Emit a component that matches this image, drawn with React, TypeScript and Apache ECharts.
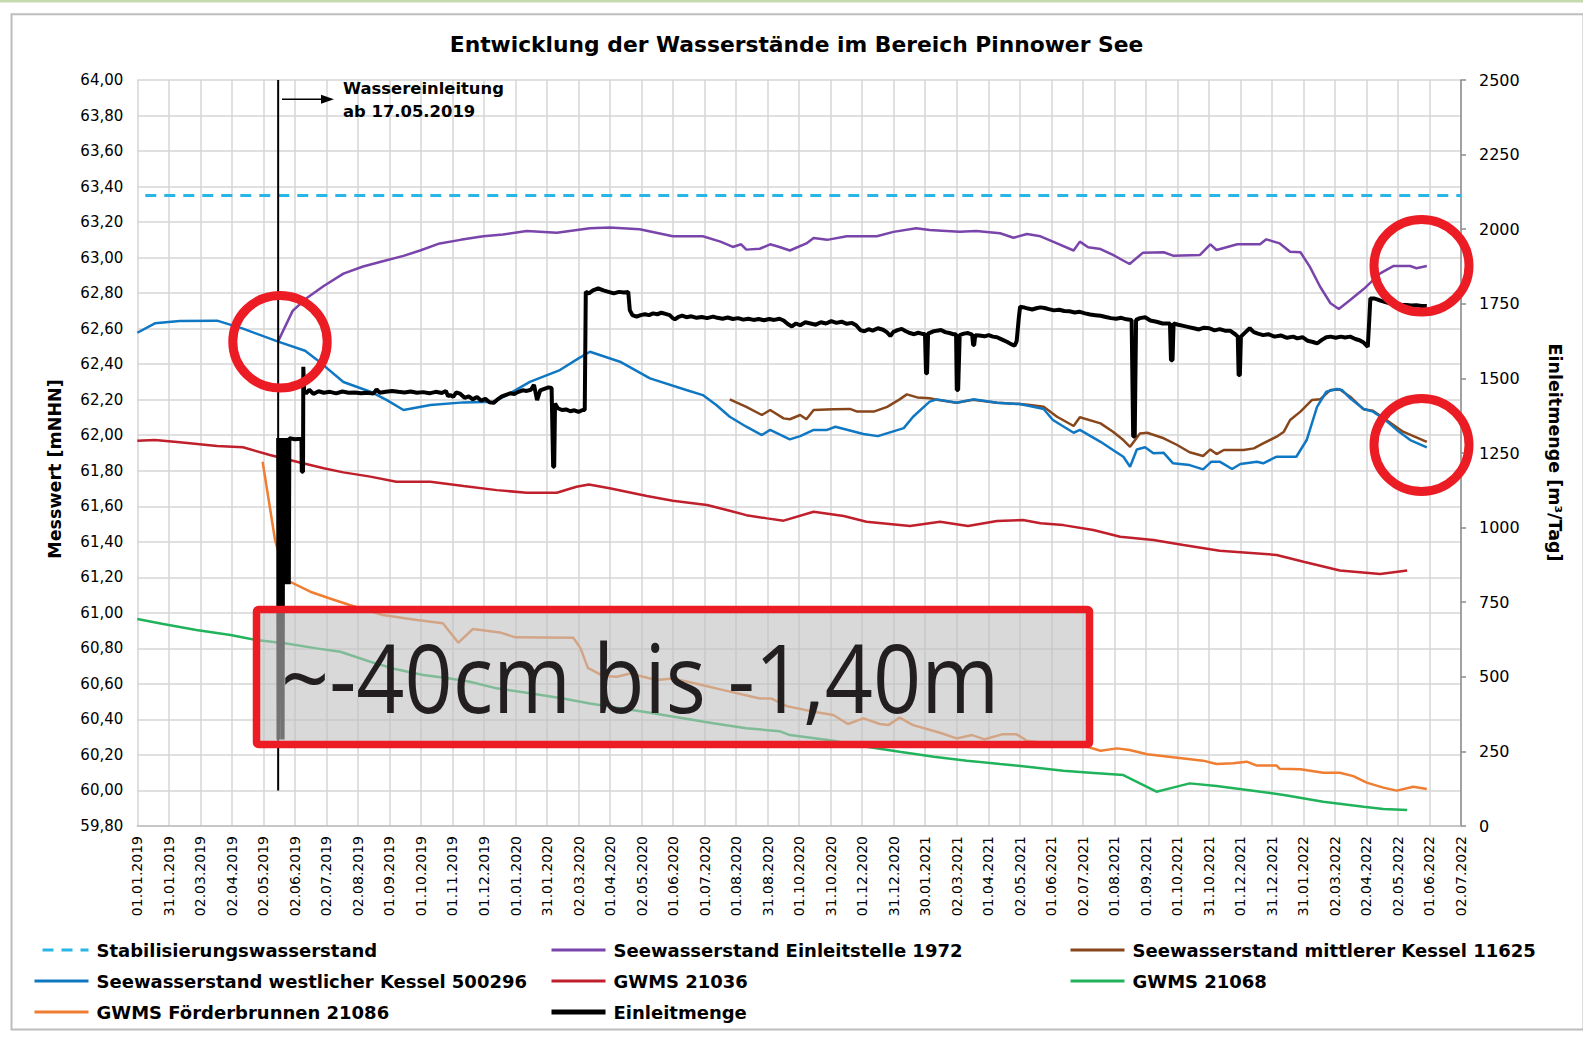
import React, { useEffect, useRef } from "react";
import * as echarts from "echarts";

// ---- axis tick labels (Excel date axis, 43 major ticks) ----
const TICK_LABELS = [
  "01.01.2019", "31.01.2019", "02.03.2019", "02.04.2019", "02.05.2019", "02.06.2019",
  "02.07.2019", "02.08.2019", "01.09.2019", "01.10.2019", "01.11.2019", "01.12.2019",
  "01.01.2020", "31.01.2020", "02.03.2020", "01.04.2020", "02.05.2020", "01.06.2020",
  "01.07.2020", "01.08.2020", "31.08.2020", "01.10.2020", "31.10.2020", "01.12.2020",
  "31.12.2020", "30.01.2021", "02.03.2021", "01.04.2021", "02.05.2021", "01.06.2021",
  "02.07.2021", "01.08.2021", "01.09.2021", "01.10.2021", "31.10.2021", "01.12.2021",
  "31.12.2021", "31.01.2022", "02.03.2022", "02.04.2022", "02.05.2022", "01.06.2022",
  "02.07.2022",
];
const TOTAL_DAYS = 1278; // 01.01.2019 -> 02.07.2022
const DAYS_PER_TICK = TOTAL_DAYS / (TICK_LABELS.length - 1);

// ---- series: [day since 01.01.2019, value] ----
const stabilisierung = [[0, 63.35], [1278, 63.35]];

const einleitstelle = [
  [136, 62.53], [150, 62.70], [163, 62.77], [180, 62.84], [199, 62.91], [218, 62.95],
  [237, 62.98], [257, 63.01], [273, 63.04], [292, 63.08], [312, 63.10], [334, 63.12],
  [353, 63.13], [376, 63.15], [405, 63.14], [437, 63.165], [456, 63.17], [485, 63.16],
  [517, 63.12], [546, 63.12], [563, 63.09], [575, 63.06], [583, 63.075], [588, 63.045],
  [601, 63.05], [611, 63.075], [620, 63.06], [630, 63.04], [646, 63.08], [653, 63.11],
  [666, 63.10], [685, 63.12], [714, 63.12], [730, 63.145], [752, 63.165], [765, 63.155],
  [781, 63.15], [794, 63.145], [810, 63.15], [833, 63.137], [846, 63.112], [859, 63.133],
  [872, 63.12], [888, 63.08], [904, 63.04], [910, 63.09], [918, 63.058], [930, 63.048],
  [942, 63.015], [958, 62.964], [971, 63.028], [991, 63.03], [1000, 63.011], [1026, 63.015],
  [1036, 63.075], [1042, 63.043], [1062, 63.075], [1084, 63.075], [1090, 63.103],
  [1103, 63.08], [1113, 63.033], [1123, 63.03], [1132, 62.949], [1142, 62.836],
  [1152, 62.743], [1160, 62.711], [1171, 62.761], [1184, 62.823], [1200, 62.911],
  [1213, 62.953], [1229, 62.953], [1235, 62.94], [1245, 62.953],
];

const mittlererKessel = [
  [572, 62.202], [588, 62.16], [603, 62.114], [611, 62.142], [624, 62.095], [630, 62.09],
  [640, 62.114], [646, 62.09], [653, 62.142], [672, 62.146], [688, 62.148], [695, 62.133],
  [711, 62.133], [724, 62.16], [736, 62.202], [743, 62.23], [753, 62.213], [765, 62.208],
  [772, 62.2], [791, 62.183], [807, 62.2], [830, 62.183], [852, 62.176], [862, 62.17],
  [875, 62.16], [888, 62.104], [904, 62.052], [910, 62.101], [930, 62.067], [942, 62.02],
  [952, 61.973], [958.5, 61.935], [968, 62.01], [975, 62.014], [991, 61.983], [1004, 61.945],
  [1016, 61.904], [1029, 61.883], [1036, 61.92], [1042, 61.894], [1049, 61.917],
  [1068, 61.917], [1078, 61.926], [1087, 61.954], [1100, 61.992], [1107, 62.02],
  [1113, 62.086], [1123, 62.133], [1134, 62.198], [1142, 62.202], [1152, 62.255],
  [1161, 62.258], [1171, 62.217], [1184, 62.146], [1193, 62.138], [1206, 62.086],
  [1222, 62.02], [1245, 61.963],
];

const westlicherKessel = [
  [0, 62.577], [17, 62.63], [41, 62.643], [77, 62.645], [102, 62.60], [136, 62.527],
  [162, 62.476], [173, 62.427], [199, 62.30], [225, 62.245], [241, 62.198], [257, 62.142],
  [283, 62.17], [315, 62.185], [344, 62.189], [357, 62.226], [379, 62.30], [408, 62.367],
  [426, 62.433], [437, 62.47], [466, 62.414], [495, 62.32], [530, 62.255], [546, 62.226],
  [559, 62.17], [572, 62.104], [588, 62.048], [603, 62.001], [611, 62.03], [630, 61.977],
  [640, 61.995], [653, 62.03], [666, 62.03], [674, 62.048], [701, 62.007], [715, 61.995],
  [740, 62.04], [749, 62.104], [765, 62.189], [772, 62.202], [791, 62.183], [807, 62.202],
  [830, 62.183], [852, 62.176], [865, 62.16], [875, 62.148], [884, 62.086], [904, 62.014],
  [910, 62.03], [930, 61.963], [942, 61.917], [952, 61.879], [958.5, 61.823], [965, 61.92],
  [973, 61.932], [981, 61.898], [991, 61.901], [1000, 61.842], [1016, 61.832],
  [1029, 61.808], [1037, 61.851], [1045, 61.851], [1057, 61.81], [1065, 61.838],
  [1081, 61.851], [1087, 61.842], [1100, 61.879], [1119, 61.879], [1129, 61.973],
  [1139, 62.16], [1148, 62.245], [1158, 62.26], [1163, 62.255], [1171, 62.208],
  [1184, 62.148], [1193, 62.133], [1203, 62.095], [1216, 62.03], [1229, 61.973],
  [1245, 61.932],
];

const gwms21036 = [
  [0, 61.969], [17, 61.973], [41, 61.96], [77, 61.939], [102, 61.932], [128, 61.889],
  [154, 61.851], [180, 61.814], [199, 61.791], [225, 61.767], [250, 61.738], [283, 61.738],
  [315, 61.714], [347, 61.691], [376, 61.676], [405, 61.676], [424, 61.71], [436, 61.723],
  [456, 61.701], [492, 61.658], [517, 61.631], [550, 61.607], [572, 61.575], [588, 61.55],
  [608, 61.532], [624, 61.519], [653, 61.569], [682, 61.545], [704, 61.513], [746, 61.489],
  [775, 61.513], [802, 61.489], [830, 61.517], [855, 61.523], [872, 61.504], [894, 61.494],
  [923, 61.466], [949, 61.428], [981, 61.41], [1010, 61.382], [1045, 61.35],
  [1100, 61.326], [1126, 61.288], [1161, 61.238], [1200, 61.219], [1226, 61.238],
];

const gwms21068 = [
  [0, 60.965], [25, 60.937], [57, 60.903], [90, 60.875], [115, 60.847], [144, 60.828],
  [173, 60.80], [196, 60.781], [225, 60.725], [250, 60.682], [276, 60.65], [302, 60.631],
  [321, 60.612], [347, 60.575], [379, 60.547], [411, 60.518], [437, 60.49], [460, 60.468],
  [492, 60.44], [524, 60.41], [556, 60.378], [588, 60.35], [620, 60.334], [630, 60.312],
  [672, 60.28], [704, 60.246], [736, 60.218], [769, 60.19], [801, 60.168], [833, 60.149],
  [866, 60.13], [894, 60.111], [920, 60.10], [952, 60.087], [968, 60.04], [984, 59.993],
  [997, 60.012], [1016, 60.04], [1042, 60.025], [1068, 60.006], [1107, 59.975],
  [1145, 59.937], [1184, 59.909], [1203, 59.896], [1226, 59.89],
];

const foerderbrunnen = [
  [121, 61.851], [133, 61.41], [144, 61.185], [167, 61.119], [186, 61.081], [205, 61.044],
  [237, 60.988], [270, 60.96], [295, 60.941], [310, 60.832], [324, 60.909], [350, 60.89],
  [365, 60.862], [421, 60.86], [428, 60.80], [435, 60.69], [450, 60.644], [463, 60.64],
  [476, 60.659], [501, 60.622], [517, 60.631], [543, 60.597], [566, 60.565], [601, 60.518],
  [612, 60.518], [627, 60.475], [653, 60.443], [672, 60.425], [686, 60.374], [701, 60.406],
  [717, 60.374], [725, 60.368], [736, 60.41], [749, 60.368], [775, 60.325], [791, 60.293],
  [806, 60.312], [818, 60.288], [835, 60.316], [849, 60.316], [859, 60.28], [880, 60.265],
  [900, 60.255], [917, 60.246], [930, 60.224], [946, 60.237], [958, 60.228], [975, 60.204],
  [1000, 60.187], [1029, 60.168], [1042, 60.149], [1058, 60.153], [1071, 60.162],
  [1081, 60.14], [1100, 60.14], [1103, 60.122], [1123, 60.12], [1145, 60.10], [1161, 60.10],
  [1174, 60.081], [1187, 60.044], [1203, 60.016], [1216, 59.999], [1232, 60.021],
  [1245, 60.008],
];

// Einleitmenge [m³/Tag] (right axis)
const einleitmenge = [
  [136, 1300], [136.3, 290], [136.8, 1300], [137.3, 810], [137.8, 1300], [138.3, 810],
  [138.8, 1300], [139.3, 810], [139.8, 1300], [140.3, 290], [140.8, 1300], [141.3, 810],
  [141.8, 1300], [142.3, 810], [142.8, 1300], [143.3, 810], [143.8, 1300], [144.3, 810],
  [144.8, 1300], [145.3, 810], [145.8, 1300], [146.3, 810], [146.8, 1300], [152, 1296],
  [158.5, 1298], [158.8, 1187], [160, 1187], [160.3, 1539], [161, 1460], [163, 1450],
  [166, 1462], [170, 1448], [175, 1457], [180, 1452], [186, 1455], [192, 1450], [198, 1456],
  [204, 1452], [210, 1453], [216, 1450], [222, 1452], [228, 1449], [231, 1463], [234, 1452],
  [240, 1455], [246, 1458], [252, 1455], [258, 1453], [264, 1456], [270, 1452], [276, 1454],
  [282, 1450], [288, 1455], [294, 1451], [298, 1458], [300, 1440], [302, 1445], [305, 1438],
  [308, 1453], [312, 1448], [316, 1435], [320, 1440], [324, 1430], [328, 1438], [332, 1425],
  [336, 1432], [340, 1420], [344, 1418], [348, 1430], [352, 1440], [356, 1445], [360, 1450],
  [364, 1448], [368, 1455], [372, 1460], [376, 1458], [380, 1462], [383, 1478], [386, 1427],
  [389, 1460], [393, 1465], [397, 1470], [400, 1468], [401.5, 1204], [402.5, 1204],
  [403.3, 1416], [406, 1400], [410, 1394], [414, 1396], [418, 1390], [422, 1393],
  [426, 1388], [430, 1394], [432, 1394], [433, 1790], [436, 1785], [440, 1795], [445, 1802],
  [450, 1795], [455, 1790], [460, 1785], [465, 1790], [470, 1788], [474, 1790], [475.5, 1729],
  [478, 1712], [482, 1707], [486, 1712], [490, 1715], [494, 1712], [498, 1718], [502, 1715],
  [506, 1720], [510, 1716], [514, 1712], [517, 1702], [519, 1698], [522, 1705], [526, 1710],
  [530, 1705], [535, 1708], [540, 1703], [545, 1706], [550, 1702], [556, 1707], [560, 1703],
  [565, 1700], [570, 1704], [575, 1699], [580, 1702], [585, 1697], [590, 1700], [595, 1696],
  [600, 1699], [605, 1695], [610, 1699], [615, 1696], [620, 1700], [624, 1694], [628, 1682],
  [632, 1674], [636, 1684], [640, 1678], [645, 1688], [650, 1684], [655, 1680], [660, 1688],
  [665, 1684], [670, 1692], [675, 1686], [680, 1690], [685, 1683], [690, 1686], [694, 1678],
  [698, 1662], [702, 1658], [706, 1665], [710, 1660], [715, 1668], [720, 1663], [724, 1654],
  [727, 1642], [730, 1656], [734, 1662], [738, 1666], [742, 1658], [746, 1652], [750, 1648],
  [754, 1653], [758, 1649], [760.5, 1649], [761.5, 1517], [762.5, 1517], [763.5, 1650],
  [768, 1657], [772, 1660], [776, 1662], [780, 1655], [784, 1652], [788, 1648], [790.5, 1648],
  [791.2, 1461], [792.5, 1461], [794, 1645], [798, 1650], [802, 1652], [806, 1647],
  [807, 1612], [808, 1612], [809, 1645], [813, 1644], [818, 1641], [822, 1645], [826, 1640],
  [830, 1638], [835, 1630], [840, 1622], [844, 1614], [847, 1610], [849, 1625], [851, 1700],
  [852.3, 1740], [856, 1738], [860, 1734], [864, 1731], [868, 1735], [872, 1738], [876, 1736],
  [880, 1732], [885, 1728], [890, 1730], [895, 1726], [900, 1725], [905, 1721], [910, 1723],
  [915, 1718], [920, 1714], [925, 1712], [930, 1710], [935, 1706], [940, 1702], [945, 1700],
  [950, 1703], [955, 1698], [960, 1696], [961.5, 1305], [963, 1305], [964.3, 1696],
  [968, 1702], [973, 1705], [978, 1694], [984, 1690], [990, 1684], [997, 1684], [998, 1561],
  [999.5, 1561], [1000.5, 1684], [1005, 1680], [1010, 1676], [1015, 1672], [1020, 1668],
  [1025, 1664], [1030, 1670], [1035, 1668], [1040, 1661], [1045, 1665], [1050, 1660],
  [1055, 1660], [1060, 1648], [1062.5, 1640], [1063.3, 1511], [1064.5, 1511], [1065.5, 1640],
  [1070, 1655], [1074, 1668], [1078, 1655], [1082, 1650], [1087, 1645], [1092, 1648],
  [1098, 1640], [1104, 1644], [1110, 1636], [1116, 1640], [1120, 1634], [1125, 1638],
  [1130, 1626], [1135, 1622], [1139, 1617], [1144, 1630], [1148, 1638], [1152, 1640],
  [1157, 1636], [1162, 1640], [1166, 1637], [1171, 1640], [1176, 1632], [1180, 1628],
  [1184, 1620], [1188, 1606], [1189.5, 1700], [1190.5, 1768], [1194, 1768], [1197, 1765],
  [1201, 1760], [1205, 1756], [1210, 1751], [1215, 1750], [1220, 1747], [1225, 1746],
  [1230, 1744], [1235, 1745], [1240, 1743], [1245, 1743],
];

// vertical marker "Wassereinleitung ab 17.05.2019"
const markerLine = [[136, 60.0], [136, 64.0]];

const LEGEND_COL1 = [
  "Stabilisierungswasserstand",
  "Seewasserstand westlicher Kessel 500296",
  "GWMS Förderbrunnen 21086",
];
const LEGEND_COL2 = ["Seewasserstand Einleitstelle 1972", "GWMS 21036", "Einleitmenge"];
const LEGEND_COL3 = ["Seewasserstand mittlerer Kessel 11625", "GWMS 21068"];

const FONT = "'DejaVu Sans', 'Liberation Sans', sans-serif";
const RED = "#ec1c24";

export default function App() {
  const ref = useRef<HTMLDivElement>(null);

  useEffect(() => {
    const chart = echarts.init(ref.current!, null, { renderer: "svg" });
    const toX = (arr: number[][]) => arr.map(([d, v]) => [d / DAYS_PER_TICK, v]);

    const line = (name: string, data: number[][], color: string, width: number, extra: any = {}) => ({
      name,
      type: "line",
      data: toX(data),
      showSymbol: false,
      symbol: "none",
      animation: false,
      lineStyle: { color, width, ...(extra.lineStyle || {}) },
      itemStyle: { color },
      emphasis: { disabled: true },
      yAxisIndex: extra.yAxisIndex || 0,
      z: extra.z || 2,
    });

    const legendItems = (names: string[]) =>
      names.map((name) => ({
        name,
        lineStyle: { width: name === "Einleitmenge" ? 5 : 3 },
      }));

    const legendBase = {
      orient: "vertical",
      top: 940,
      padding: 0,
      itemWidth: 54,
      itemHeight: 14,
      itemGap: 11,
      selectedMode: false,
      itemStyle: { opacity: 0 },
      textStyle: {
        fontFamily: FONT,
        fontWeight: "bold",
        fontSize: 18,
        color: "#000",
        lineHeight: 20,
        padding: [0, 0, 0, 3],
      },
    };

    const option: any = {
      animation: false,
      backgroundColor: "#ffffff",
      grid: { left: 137.3, right: 122, top: 80, bottom: 218, containLabel: false },
      xAxis: {
        type: "value",
        min: 0,
        max: TICK_LABELS.length - 1,
        interval: 1,
        axisLine: { show: true, lineStyle: { color: "#bfbfbf", width: 1.5 } },
        axisTick: { show: false },
        splitLine: { show: true, lineStyle: { color: "#d6d6d6", width: 1.5 } },
        axisLabel: {
          rotate: 90,
          margin: 10,
          fontFamily: FONT,
          fontSize: 14,
          color: "#000",
          showMinLabel: true,
          showMaxLabel: true,
          formatter: (v: number) => TICK_LABELS[Math.round(v)] ?? "",
        },
      },
      yAxis: [
        {
          type: "value",
          min: 59.8,
          max: 64,
          interval: 0.2,
          axisLine: { show: false },
          axisTick: { show: false },
          splitLine: { show: true, lineStyle: { color: "#d6d6d6", width: 1.5 } },
          axisLabel: {
            margin: 14,
            fontFamily: FONT,
            fontSize: 15,
            color: "#000",
            formatter: (v: number) => v.toFixed(2).replace(".", ","),
          },
        },
        {
          type: "value",
          min: 0,
          max: 2500,
          interval: 250,
          position: "right",
          axisLine: { show: true, lineStyle: { color: "#8c8c8c", width: 1.5 } },
          axisTick: { show: true, length: 5, lineStyle: { color: "#8c8c8c", width: 1.5 } },
          splitLine: { show: false },
          axisLabel: {
            margin: 18,
            fontFamily: FONT,
            fontSize: 16,
            color: "#000",
            formatter: (v: number) => String(Math.round(v)),
          },
        },
      ],
      legend: [
        { ...legendBase, left: 33, data: legendItems(LEGEND_COL1) },
        { ...legendBase, left: 549, data: legendItems(LEGEND_COL2) },
        { ...legendBase, left: 1069, data: legendItems(LEGEND_COL3) },
      ],
      series: [
        line("Stabilisierungswasserstand", stabilisierung, "#29b6e6", 3, {
          lineStyle: { type: [11, 8], dashOffset: 11 },
        }),
        line("GWMS 21068", gwms21068, "#21b35c", 2.5),
        line("GWMS Förderbrunnen 21086", foerderbrunnen, "#ef7d32", 2.5),
        line("GWMS 21036", gwms21036, "#c01f2c", 2.5),
        line("Seewasserstand mittlerer Kessel 11625", mittlererKessel, "#87461c", 2.5),
        line("Seewasserstand westlicher Kessel 500296", westlicherKessel, "#1078c2", 2.5),
        line("Seewasserstand Einleitstelle 1972", einleitstelle, "#7a45aa", 2.5),
        line("Markierung", markerLine, "#000000", 2, { z: 3 }),
        line("Einleitmenge", einleitmenge, "#000000", 4, { yAxisIndex: 1, z: 4 }),
      ],
      graphic: {
        elements: [
          {
            type: "rect",
            silent: true,
            z: -10,
            shape: { x: 0, y: 0, width: 1583, height: 2.5 },
            style: { fill: "#c6dab0" },
          },
          {
            type: "rect",
            silent: true,
            z: -10,
            shape: { x: 11.5, y: 14.3, width: 1572, height: 1015.2 },
            style: { fill: "none", stroke: "#bdbdbd", lineWidth: 2 },
          },
          {
            type: "text",
            silent: true,
            x: 796.5,
            y: 44.7,
            style: {
              text: "Entwicklung der Wasserstände im Bereich Pinnower See",
              fontFamily: FONT,
              fontWeight: "bold",
              fontSize: 21.8,
              fill: "#000",
              align: "center",
              verticalAlign: "middle",
            },
          },
          {
            type: "text",
            silent: true,
            x: 55,
            y: 469,
            rotation: Math.PI / 2,
            style: {
              text: "Messwert [mNHN]",
              fontFamily: FONT,
              fontWeight: "bold",
              fontSize: 17.5,
              fill: "#000",
              align: "center",
              verticalAlign: "middle",
            },
          },
          {
            type: "text",
            silent: true,
            x: 1554.5,
            y: 452.5,
            rotation: -Math.PI / 2,
            style: {
              text: "Einleitmenge [m³/Tag]",
              fontFamily: FONT,
              fontWeight: "bold",
              fontSize: 17.5,
              fill: "#000",
              align: "center",
              verticalAlign: "middle",
            },
          },
          {
            type: "line",
            silent: true,
            z: 50,
            shape: { x1: 282, y1: 99.3, x2: 323, y2: 99.3 },
            style: { stroke: "#000", lineWidth: 1.5 },
          },
          {
            type: "polygon",
            silent: true,
            z: 50,
            shape: { points: [[321, 94.8], [334, 99.3], [321, 103.8]] },
            style: { fill: "#000" },
          },
          {
            type: "text",
            silent: true,
            z: 50,
            x: 343,
            y: 88.5,
            style: {
              text: "Wassereinleitung",
              fontFamily: FONT,
              fontWeight: "bold",
              fontSize: 16.4,
              fill: "#000",
              align: "left",
              verticalAlign: "middle",
            },
          },
          {
            type: "text",
            silent: true,
            z: 50,
            x: 343,
            y: 111.2,
            style: {
              text: "ab 17.05.2019",
              fontFamily: FONT,
              fontWeight: "bold",
              fontSize: 16.4,
              fill: "#000",
              align: "left",
              verticalAlign: "middle",
            },
          },
          {
            type: "rect",
            silent: true,
            z: 100,
            shape: { x: 256.5, y: 609.5, width: 833, height: 135, r: 2 },
            style: { fill: "rgba(192,192,192,0.6)", stroke: RED, lineWidth: 7.5 },
          },
          {
            type: "text",
            silent: true,
            z: 101,
            x: 281,
            y: 676,
            scaleX: 0.887,
            style: {
              text: "~-40cm bis -1,40m",
              fontFamily: "'Open Sans', 'Noto Sans', sans-serif",
              fontWeight: "normal",
              fontSize: 95,
              fill: "#231f20",
              align: "left",
              verticalAlign: "middle",
            },
          },
          {
            type: "ellipse",
            silent: true,
            z: 100,
            shape: { cx: 280, cy: 341.8, rx: 47.2, ry: 46.3 },
            style: { fill: "none", stroke: RED, lineWidth: 9 },
          },
          {
            type: "ellipse",
            silent: true,
            z: 100,
            shape: { cx: 1421.5, cy: 265.8, rx: 47.5, ry: 46.3 },
            style: { fill: "none", stroke: RED, lineWidth: 9 },
          },
          {
            type: "ellipse",
            silent: true,
            z: 100,
            shape: { cx: 1421.5, cy: 445, rx: 47.5, ry: 46.5 },
            style: { fill: "none", stroke: RED, lineWidth: 9 },
          },
        ],
      },
    };

    chart.setOption(option);
    return () => chart.dispose();
  }, []);

  return (
    <div
      ref={ref}
      style={{ position: "fixed", left: 0, top: 0, width: 1583, height: 1044, background: "#fff" }}
    />
  );
}
